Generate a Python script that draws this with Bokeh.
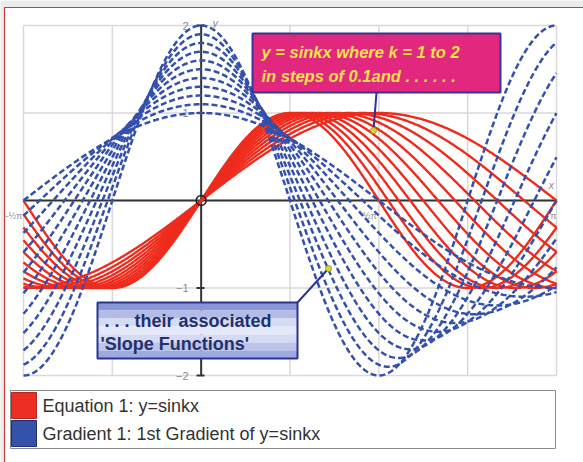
import numpy as np
from bokeh.plotting import figure
from bokeh.models import Range1d
from bokeh.core.properties import value
from bokeh.embed import file_html
from bokeh.resources import INLINE

# family parameters: y = sin(kx) for k = 1 to 2 in steps of 0.1
k_values = [1.0, 1.1, 1.2, 1.3, 1.4, 1.5, 1.6, 1.7, 1.8, 1.9, 2.0]
x_min, x_max = -np.pi / 2, np.pi
y_min, y_max = -2, 2

# tick labels on the axes
x_tick_pos = [-np.pi / 2, np.pi / 2, np.pi]
x_tick_text = ["\u2212\u00bd\u03c0", "\u00bd\u03c0", "\u03c0"]
y_tick_pos = [2, 1, -1, -2]
y_tick_text = ["2", "1", "\u22121", "\u22122"]

legend_labels = ["Equation 1: y=sinkx", "Gradient 1: 1st Gradient of y=sinkx"]
legend_colors = ["#ec2f22", "#3552aa"]

RED = "#ee2b1c"
BLUE = "#3450ad"

W, H = 583, 462
# pixel layout of the graph area
PL, PR, PT, PB = 23, 556, 25, 375
SX = (PR - PL) / (x_max - x_min)
SY = (PB - PT) / (y_max - y_min)


def X(px):
    return x_min + (px - PL) / SX


def Y(py):
    return y_max - (py - PT) / SY


p = figure(width=W, height=H, x_range=Range1d(X(0), X(W)), y_range=Range1d(Y(H), Y(0)),
           toolbar_location=None, output_backend="svg", min_border=0)
p.axis.visible = False
p.grid.visible = False
p.outline_line_color = None
p.background_fill_color = "#ececec"
p.border_fill_color = "#ececec"

# outer frame (white panel with a red edge)
p.quad(left=[X(4)], right=[X(W + 10)], top=[Y(7)], bottom=[Y(H + 10)],
       fill_color="white", line_color="#d23a3a", line_width=1.2)

# grid
gx = [x_min + i * np.pi / 4 for i in range(7)]
gy = [y_min + i for i in range(5)]
p.segment(x0=gx, x1=gx, y0=[y_min] * len(gx), y1=[y_max] * len(gx),
          line_color="#d9d9d9", line_width=1.5)
p.segment(x0=[x_min] * len(gy), x1=[x_max] * len(gy), y0=gy, y1=gy,
          line_color="#d9d9d9", line_width=1.5)

# axes
p.segment(x0=[x_min], x1=[x_max], y0=[0], y1=[0], line_color="#333333", line_width=2)
p.segment(x0=[0], x1=[0], y0=[y_min], y1=[y_max], line_color="#333333", line_width=2)
p.segment(x0=[X(196)] * 4, x1=[X(204)] * 4, y0=y_tick_pos, y1=y_tick_pos,
          line_color="#333333", line_width=2)

xs = np.linspace(x_min, x_max, 500)
for k in k_values:
    p.line(xs, np.sin(k * xs), line_color=RED, line_width=2.4)
for k in k_values:
    p.line(xs, k * np.cos(k * xs), line_color=BLUE, line_width=2.5, line_dash="6 3")

p.scatter([0], [0], size=10, fill_color=None, line_color="#222222", line_width=1.5)

# axis labels
font = value("Liberation Sans")
p.text(x=[X(22)] + x_tick_pos[1:], y=[Y(215)] * 3, text=x_tick_text,
       text_font=font, text_font_size="9px", text_color="#8a8a8a",
       text_align="right", text_baseline="middle", x_offset=[0, -2, 0])
p.text(x=[X(188)] * 4, y=y_tick_pos, text=y_tick_text, text_font=font,
       text_font_size="11px", text_color="#8a8a8a", text_align="right",
       text_baseline="middle")
p.text(x=[X(212), X(548)], y=[Y(22), Y(184)], text=["y", "x"], text_font=font,
       text_font_size="11px", text_color="#8a8a8a", text_font_style="italic",
       text_baseline="middle")

# callout: the family of curves
p.segment(x0=[X(376)], x1=[X(373)], y0=[Y(92)], y1=[Y(130)], line_color="#2b3590", line_width=2)
p.quad(left=[X(252)], right=[X(500)], top=[Y(33)], bottom=[Y(92)],
       fill_color="#e2287e", line_color="#3a3390", line_width=2)
p.text(x=[X(261)] * 2, y=[Y(51), Y(75)],
       text=["y = sinkx where k = 1 to 2", "in steps of 0.1and . . . . . ."],
       text_font=font, text_font_size="16.5px", text_font_style="bold italic",
       text_color="#f3e34a", text_baseline="middle")
p.scatter([X(373)], [Y(130)], size=6, fill_color="#d8d83a", line_color="#9a9a30")

# callout: the slope functions
p.segment(x0=[X(297)], x1=[X(328)], y0=[Y(302)], y1=[Y(268)], line_color="#2b3590", line_width=2)
strip_cols = ["#8a97d6", "#b3bce8", "#d6dbf4", "#e4e8f8", "#d6dbf4", "#bcc4ec", "#9ea9de"]
n = len(strip_cols)
edges = np.linspace(302, 358, n + 1)
p.quad(left=[X(97)] * n, right=[X(297)] * n, top=[Y(e) for e in edges[:-1]],
       bottom=[Y(e) for e in edges[1:]], fill_color=strip_cols, line_color=None)
p.quad(left=[X(97)], right=[X(297)], top=[Y(302)], bottom=[Y(358)],
       fill_color=None, line_color="#2b3590", line_width=2)
p.text(x=[X(104), X(100)], y=[Y(320), Y(343)],
       text=[". . . their associated", "'Slope Functions'"],
       text_font=font, text_font_size="18px", text_font_style="bold",
       text_color="#23306e", text_align="left", text_baseline="middle")
p.scatter([X(328)], [Y(268)], size=6, fill_color="#d8d83a", line_color="#9a9a30")

# key
p.quad(left=[X(10)], right=[X(555)], top=[Y(390)], bottom=[Y(448)],
       fill_color="white", line_color="#8c8c8c", line_width=1)
p.quad(left=[X(11)] * 2, right=[X(36)] * 2, top=[Y(392), Y(420)], bottom=[Y(418), Y(446)],
       fill_color=legend_colors, line_color=["#b02a20", "#1e2e70"], line_width=1)
p.text(x=[X(42)] * 2, y=[Y(405), Y(433)], text=legend_labels, text_font=font,
       text_font_size="18px", text_color="#333333", text_baseline="middle")

open("out.html", "w").write(file_html(p, INLINE))
